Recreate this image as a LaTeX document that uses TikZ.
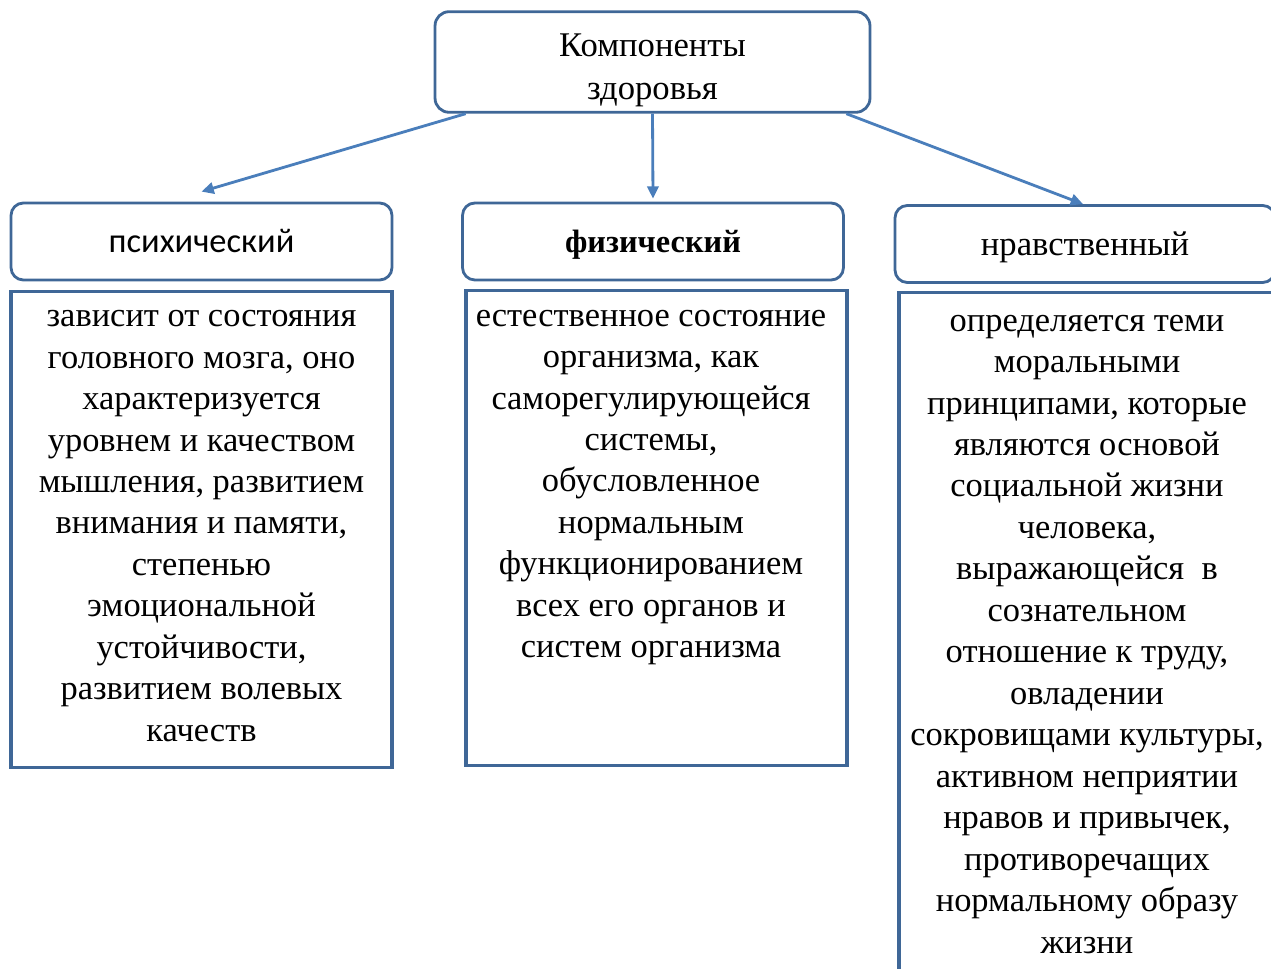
\documentclass[tikz,border=0pt]{standalone}
\usepackage{fontspec}
\setmainfont{Liberation Serif}
\newfontfamily\labelsans{Carlito}
\usetikzlibrary{arrows.meta, positioning}
\definecolor{boxblue}{HTML}{3F6797}
\definecolor{arrowblue}{HTML}{4A7EBB}
\tikzset{
  x=0.02cm, y=-0.02cm, % one unit is one pixel of the layout
  >={Triangle[length=7pt,width=6.5pt]}, % small filled heads
}

\begin{document}
\begin{tikzpicture}[line width=1.6pt,
    head/.style = {draw=boxblue, rounded corners=8pt, align=center,
      minimum width=8.7cm, minimum height=1.96cm,
      font=\fontsize{19.7}{24.4}\selectfont},
    kind/.style = {draw=boxblue, rounded corners=7pt,
      minimum width=7.62cm, minimum height=1.54cm,
      text height=17pt, text depth=4pt},
    descbox/.style = {draw=boxblue, line width=1.8pt, minimum width=7.62cm, anchor=north},
    desctext/.style = {align=center, inner sep=0pt, anchor=north,
      font=\fontsize{19.6}{23.6}\selectfont},
    arrow/.style = {->, arrowblue}]
    \useasboundingbox (0,0) rectangle (1271,969);
    \clip (0,0) rectangle (1271,969);

    \node[head] (comp) at (652.5,62) {\rule{0pt}{22pt}Компоненты\\здоровья};

    \node[kind, font=\labelsans\fontsize{19.6}{22}\selectfont] (psy) at (201.5,241.5) {психический};
    \node[kind, font=\bfseries\fontsize{18.4}{22}\selectfont] (phys) at (653,241.5) {физический};
    \node[kind, minimum width=7.6cm, font=\fontsize{19.7}{22}\selectfont] (moral) at (1085,244) {нравственный};

    \node[descbox, minimum height=9.52cm] (psyd) at (201.5,290) {};
    \node[descbox, minimum height=9.5cm] (physd) at (656.5,289) {};
    \node[descbox, minimum width=7.52cm, minimum height=14.4cm] (morald) at (1087,291) {};

    \node[desctext, below=0.38cm of psyd.north] (psyt) {зависит от состояния\\
    головного мозга, оно\\характеризуется\\уровнем и качеством\\
    мышления, развитием\\внимания и памяти,\\степенью\\эмоциональной\\
    устойчивости,\\развитием волевых\\качеств};
    \node[desctext, below=0.39cm of physd.north, xshift=-0.11cm] (physt) {естественное состояние\\
    организма, как\\саморегулирующейся\\системы,\\обусловленное\\нормальным\\
    функционированием\\всех его органов и\\систем организма};
    \node[desctext, below=0.45cm of morald.north] (moralt) {определяется теми\\
    моральными\\принципами, которые\\являются основой\\социальной жизни\\
    человека,\\выражающейся~~в\\сознательном\\отношение к труду,\\
    овладении\\сокровищами культуры,\\активном неприятии\\
    нравов и привычек,\\противоречащих\\нормальному образу\\жизни};

    \path
    ([xshift=0.64cm]comp.south west) edge[arrow] ([yshift=0.2cm]psy.north)
    (comp.south) edge[arrow] ([yshift=0.06cm]phys.north)
    ([xshift=-0.5cm]comp.south east) edge[arrow] ([xshift=-0.04cm]moral.north)
    ;
  \end{tikzpicture}
\end{document}
